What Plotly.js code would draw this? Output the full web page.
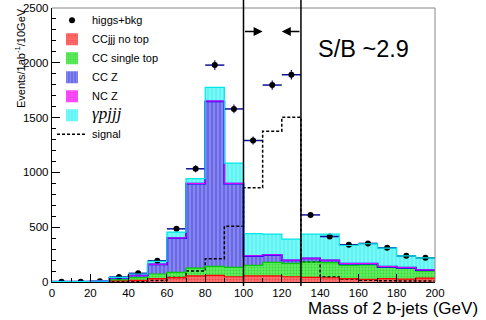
<!DOCTYPE html>
<html>
<head>
<meta charset="utf-8">
<script src="https://cdn.plot.ly/plotly-3.0.1.min.js"></script>
<style>html,body{margin:0;padding:0;background:#fff;}#chart{width:486px;height:320px;}</style>
</head>
<body>
<div id="chart"></div>
<script>
// Bin centres (GeV), 10 GeV wide bins
const binCenters = [5,15,25,35,45,55,65,75,85,95,105,115,125,135,145,155,165,175,185,195];
const binWidth = 10;
// Background components (events per bin)
const ccjjjNoTop   = [2,2,3,12,15,30,40,55,61,48,55,55,48,42,39,30,24,30,27,36];
const ccSingleTop  = [0,0,0,8,25,43,48,72,81,85,97,124,122,140,137,122,131,103,97,64];
const ccZ          = [1,1,5,20,21,88,312,770,1506,764,84,66,27,33,21,15,12,6,6,9];
const ncZ          = [0,0,0,0,1,1,2,2,3,3,3,3,2,2,2,2,2,2,1,1];
const gammaPjjj    = [0,0,0,2,11,26,53,44,125,185,203,188,192,219,237,164,180,168,108,111];
// Signal (higgs)
const signal       = [0,0,0,4,6,14,40,100,212,508,861,1376,1503,182,45,27,15,12,10,8];
// Higgs + background pseudo-data and its errors
const higgsBkg     = [3,3,6,45,79,194,485,1033,1979,1579,1291,1797,1891,612,415,339,352,312,239,221];
const higgsBkgErr  = [2,2,3,7,9,14,22,32,44,40,36,42,43,25,20,18,19,18,15,15];
// Axis ticks
const xTicks = [0,20,40,60,80,100,120,140,160,180,200];
const yTicks = [0,500,1000,1500,2000,2500];
// Mass window and arrow height
const windowLow = 100, windowHigh = 130, arrowLen = 10, arrowLevel = 2285;

const FONT = 'Liberation Sans, Arial, Helvetica, sans-serif';

const layers = [
  {name: 'CCjjj no top', y: ccjjjNoTop, fill: '#ff7272', line: '#ff0000', lw: 1.2, shape: '.', fg: '#e01818', size: 3, sol: 0.35},
  {name: 'CC single top', y: ccSingleTop, fill: '#5ef05e', line: '#00cc00', lw: 1.2, shape: '.', fg: '#22b022', size: 3, sol: 0.3},
  {name: 'CC Z', y: ccZ, fill: '#6868e8', line: '#0000ff', lw: 1.8, shape: '|', fg: '#ffffff', size: 4, sol: 0.2},
  {name: 'NC Z', y: ncZ, fill: '#ff55ff', line: '#ff00ff', lw: 1, shape: '.', fg: '#d000d0', size: 3, sol: 0.3},
  {name: '<span style="font-family:\'Liberation Serif\',serif;font-size:17px"><i>γpjjj</i></span>', y: gammaPjjj, fill: '#5cf4f4', line: '#00e8e8', lw: 1.2, shape: '|', fg: '#ffffff', size: 4, sol: 0.2}
];

// bin edges for step outlines
const edges = binCenters.map(c => c - binWidth / 2).concat([binCenters[binCenters.length - 1] + binWidth / 2]);
const stepOf = arr => arr.concat([arr[arr.length - 1]]);

const barTraces = [];
const outlineTraces = [];
let cum = binCenters.map(() => 0);
layers.forEach(L => {
  cum = cum.map((v, i) => v + L.y[i]);
  barTraces.push({
    type: 'bar', name: L.name, x: binCenters, y: L.y, width: binWidth,
    marker: {color: L.fill, line: {color: L.fill, width: 0},
             pattern: {shape: L.shape, fgcolor: L.fg, bgcolor: L.fill, size: L.size, solidity: L.sol, fillmode: 'overlay'}},
    hoverinfo: 'skip'
  });
  outlineTraces.push({
    type: 'scatter', mode: 'lines', x: edges, y: stepOf(cum), showlegend: false,
    line: {shape: 'hv', color: L.line, width: L.lw}, hoverinfo: 'skip'
  });
});

const traces = [
  {
    type: 'scatter', mode: 'markers', name: 'higgs+bkg',
    x: binCenters, y: higgsBkg,
    marker: {color: '#000000', size: 6},
    error_x: {type: 'constant', value: binWidth / 2, color: '#10109a', thickness: 1.5, width: 0},
    error_y: {type: 'data', array: higgsBkgErr, color: '#10109a', thickness: 1.2, width: 0},
    hoverinfo: 'skip'
  }
].concat(barTraces).concat([
  {
    type: 'scatter', mode: 'lines', name: 'signal', x: edges, y: stepOf(signal),
    line: {shape: 'hv', color: '#000000', width: 1.5, dash: '3px,2px'},
    hoverinfo: 'skip'
  }
]).concat(outlineTraces);

const layout = {
  width: 486, height: 320,
  margin: {l: 52, r: 51, t: 7, b: 38, pad: 0},
  paper_bgcolor: '#ffffff', plot_bgcolor: '#ffffff',
  font: {family: FONT, color: '#000000', size: 11.5},
  barmode: 'stack', bargap: 0, showlegend: true,
  legend: {x: 0.0, y: 1.005, xanchor: 'left', yanchor: 'top', traceorder: 'normal',
           bgcolor: 'rgba(255,255,255,0)', font: {family: FONT, size: 11}, itemwidth: 30},
  xaxis: {range: [0, 200], tickvals: xTicks, ticktext: xTicks.map(String),
          ticks: 'inside', ticklen: 8, tickwidth: 1, tickcolor: '#000000',
          minor: {dtick: 10, ticks: 'inside', ticklen: 4, tickcolor: '#000000'},
          showline: true, linecolor: '#000000', linewidth: 1.2, showgrid: false, zeroline: false,
          tickfont: {family: FONT, size: 11.5}, fixedrange: true},
  yaxis: {range: [0, 2500], tickvals: yTicks, ticktext: yTicks.map(String),
          ticks: 'inside', ticklen: 8, tickwidth: 1, tickcolor: '#000000',
          minor: {dtick: 100, ticks: 'inside', ticklen: 4, tickcolor: '#000000'},
          showline: true, linecolor: '#000000', linewidth: 1.2, showgrid: false, zeroline: false,
          tickfont: {family: FONT, size: 11.5}, fixedrange: true},
  shapes: [
    {type: 'line', xref: 'paper', yref: 'paper', x0: 0, x1: 1, y0: 1, y1: 1, line: {color: '#888888', width: 1}},
    {type: 'line', xref: 'paper', yref: 'paper', x0: 1, x1: 1, y0: 0, y1: 1, line: {color: '#888888', width: 1}},
    {type: 'line', xref: 'x', yref: 'paper', x0: windowLow, x1: windowLow, y0: -0.015, y1: 1.03, line: {color: '#000000', width: 1.5}, layer: 'above'},
    {type: 'line', xref: 'x', yref: 'paper', x0: windowHigh, x1: windowHigh, y0: -0.015, y1: 1.03, line: {color: '#000000', width: 1.5}, layer: 'above'}
  ],
  annotations: [
    {x: windowLow + arrowLen, y: arrowLevel, ax: windowLow, ay: arrowLevel, xref: 'x', yref: 'y', axref: 'x', ayref: 'y',
     text: '', showarrow: true, arrowhead: 2, arrowsize: 1.2, arrowwidth: 1.5, arrowcolor: '#000000'},
    {x: windowHigh - arrowLen, y: arrowLevel, ax: windowHigh, ay: arrowLevel, xref: 'x', yref: 'y', axref: 'x', ayref: 'y',
     text: '', showarrow: true, arrowhead: 2, arrowsize: 1.2, arrowwidth: 1.5, arrowcolor: '#000000'},
    {x: 0.689, y: 0.849, xref: 'paper', yref: 'paper', xanchor: 'left', yanchor: 'middle',
     text: 'S/B ~2.9', showarrow: false, font: {family: FONT, size: 23.5, color: '#000000'}},
    {x: 1.1175, y: -0.098, xref: 'paper', yref: 'paper', xanchor: 'right', yanchor: 'middle',
     text: 'Mass of 2 b-jets (GeV)', showarrow: false, font: {family: FONT, size: 17, color: '#000000'}},
    {x: -0.083, y: 0.818, xref: 'paper', yref: 'paper', xanchor: 'center', yanchor: 'middle', textangle: -90,
     text: 'Events/1ab<sup>-1</sup>/10GeV', showarrow: false, font: {family: FONT, size: 11, color: '#000000'}}
  ]
};

Plotly.newPlot('chart', traces, layout, {staticPlot: true, displayModeBar: false});
</script>
</body>
</html>
